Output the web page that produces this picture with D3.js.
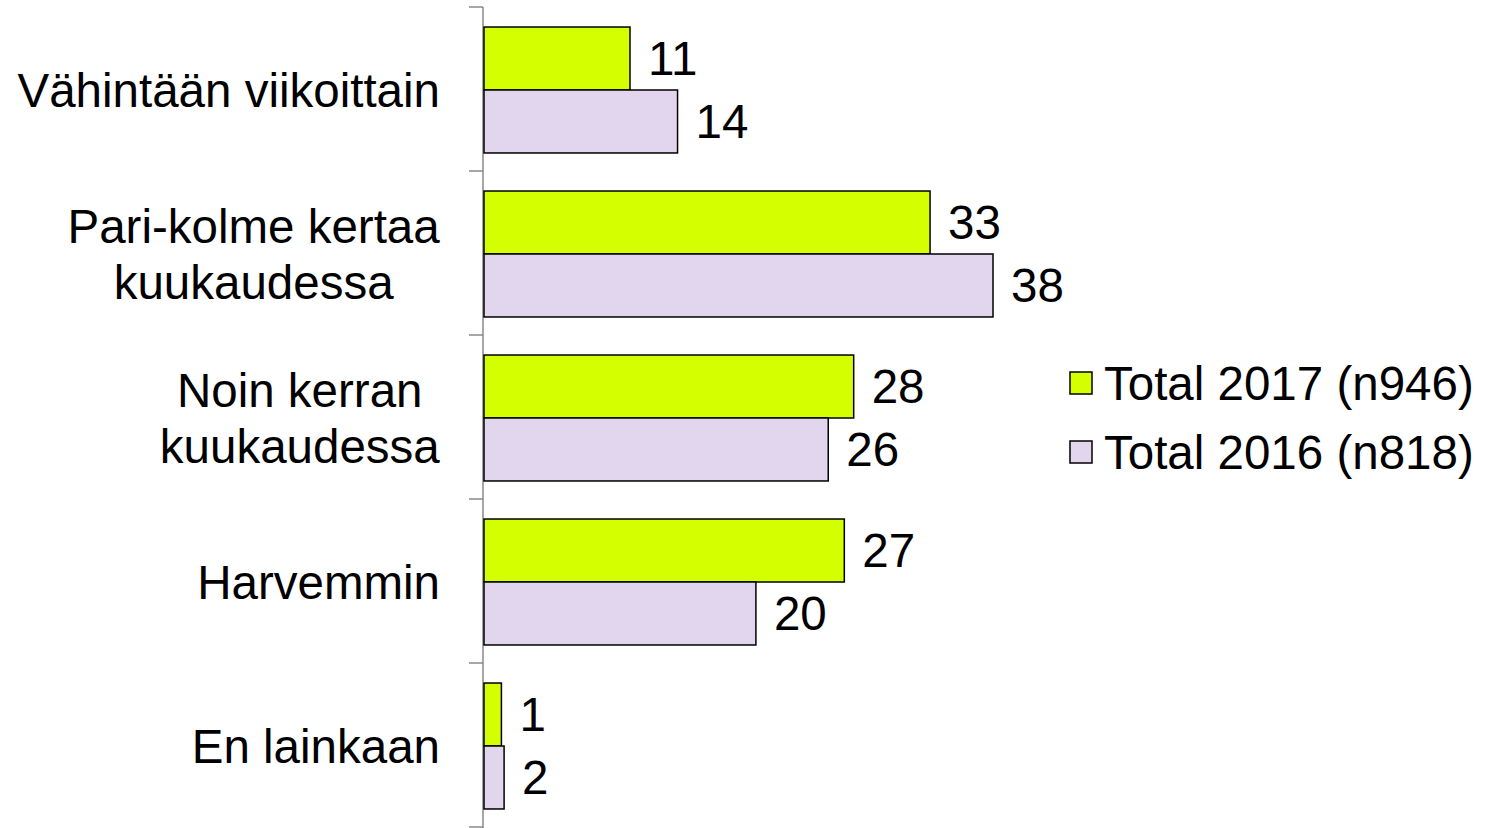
<!DOCTYPE html>
<html>
<head>
<meta charset="utf-8">
<script src="https://cdn.jsdelivr.net/npm/d3@7/dist/d3.min.js"></script>
<style>
  body { margin: 0; background: #fff; }
  text { font-family: "Liberation Sans", Arial, sans-serif; fill: #000; }
</style>
</head>
<body>
<div id="chart"></div>
<script>
// DATA (bar lengths, labels rounded)
const categories = [
    ["Vähintään viikoittain"],
    ["Pari-kolme kertaa", "kuukaudessa"],
    ["Noin kerran", "kuukaudessa"],
    ["Harvemmin"],
    ["En lainkaan"]
]
const series = ["Total 2017 (n946)", "Total 2016 (n818)"]
const values2017 = [10.9, 33.3, 27.6, 26.9, 1.3]
const values2016 = [14.45, 38, 25.7, 20.3, 1.5]
const colors = ["#d4ff00", "#e2d6ee"]

let width = 1486,
    height = 828,
    svg = d3.select("#chart").append("svg")
        .attr("width", width)
        .attr("height", height)

let x0 = 484, fontSize = 47.5
let fmt = d3.format(".0f")

let y = d3.scaleBand()
    .domain(d3.range(categories.length))
    .range([8, 828])
    .paddingInner(0.232)
    .paddingOuter(0.116)

let x = d3.scaleLinear().domain([0, 38]).range([x0, 993])

let inner = d3.scaleBand().domain([0, 1]).range([0, y.bandwidth()])

//AXIS
svg.append("line")
    .attr("x1", x0 - 1).attr("x2", x0 - 1)
    .attr("y1", 7).attr("y2", height)
    .attr("stroke", "#898989").attr("stroke-width", 1.5)
d3.range(categories.length + 1).forEach(i => {
    let ty = 7 + i * (820 / categories.length)
    svg.append("line")
        .attr("x1", x0 - 15).attr("x2", x0 - 1)
        .attr("y1", ty).attr("y2", ty)
        .attr("stroke", "#898989").attr("stroke-width", 1.5)
})

//BARS
let rows = categories.map((c, i) => ({i: i, label: c, vals: [values2017[i], values2016[i]]}))
let group = svg.append("g").selectAll("g")
    .data(rows)
    .enter().append("g")
    .attr("transform", d => "translate(0," + y(d.i) + ")")

group.selectAll("rect")
    .data(d => d.vals)
    .enter().append("rect")
    .attr("x", x0)
    .attr("y", (v, j) => inner(j))
    .attr("width", v => x(v) - x0)
    .attr("height", inner.bandwidth())
    .attr("fill", (v, j) => colors[j])
    .attr("stroke", "#000")
    .attr("stroke-width", 1.5)

group.selectAll(".val")
    .data(d => d.vals)
    .enter().append("text")
    .attr("class", "val")
    .attr("x", v => x(v) + 18)
    .attr("y", (v, j) => inner(j) + inner.bandwidth() / 2)
    .attr("dy", "0.35em")
    .attr("font-size", fontSize)
    .text(v => fmt(v))

//CATEGORY LABELS
group.each(function(d) {
    let g = d3.select(this)
    let t = g.append("text")
        .attr("font-size", fontSize)
        .attr("text-anchor", "middle")
    let lineH = 56
    let top = y.bandwidth() / 2 - (d.label.length - 1) * lineH / 2
    d.label.forEach((line, k) => {
        t.append("tspan").attr("x", 0).attr("y", top + k * lineH).attr("dy", "0.35em").text(line)
    })
    let w = t.node().getBBox().width
    t.attr("transform", "translate(" + (440 - w / 2) + ",0)")
})

//LEGEND
let legend = svg.append("g").selectAll("g")
    .data(series)
    .enter().append("g")
    .attr("transform", (d, i) => "translate(1070," + (383 + i * 69) + ")")
legend.append("rect")
    .attr("x", 0).attr("y", -11)
    .attr("width", 22).attr("height", 22)
    .attr("fill", (d, i) => colors[i])
    .attr("stroke", "#000").attr("stroke-width", 1.5)
legend.append("text")
    .attr("x", 34).attr("dy", "0.35em")
    .attr("font-size", fontSize)
    .text(d => d)
</script>
</body>
</html>
